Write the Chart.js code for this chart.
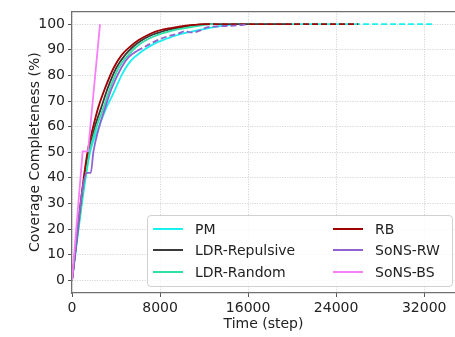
<!DOCTYPE html>
<html>
<head>
<meta charset="utf-8">
<script src="https://cdn.jsdelivr.net/npm/chart.js@4.4.3/dist/chart.umd.min.js"></script>
<style>
  body { margin: 0; background: #fff; font-family: "DejaVu Sans", sans-serif; }
  #wrap { position: relative; width: 455px; height: 337px; }
  #legend {
    position: absolute; left: 147px; top: 215px; width: 304px; height: 70px;
    border: 1px solid #d0d0d0; border-radius: 4px; background: rgba(255,255,255,0.8);
    font-size: 14px; color: #222;
  }
  .item { position: absolute; height: 16px; line-height: 16px; white-space: nowrap; }
  .item i { position: absolute; left: 0; top: 7px; width: 30px; height: 2px; }
  .item span { position: absolute; left: 42px; top: 0; }
</style>
</head>
<body>
<div id="wrap">
  <canvas id="c" width="455" height="337"></canvas>
  <div id="legend"></div>
</div>
<script>
// ---- data (time in steps, coverage in %) ----
const xTicks = [0, 8000, 16000, 24000, 32000];
const yTicks = [0, 10, 20, 30, 40, 50, 60, 70, 80, 90, 100];

const pmSteps = [0, 1130, 1660, 2400, 3150, 3790, 4545, 5300, 6360, 7575, 9090, 10300, 11520, 12800, 14060, 15000, 32700];
const pmCov   = [0, 36.8, 50.3, 59.5, 67.6, 73.3, 80.4, 85.5, 89.4, 92.6, 95.1, 96.6, 97.7, 98.8, 99.6, 100, 100];

const repSteps = [0, 1030, 1540, 2050, 2670, 3270, 4030, 4850, 5500, 6300, 7100, 7880, 8800, 9700, 10600, 11520, 12500, 20000];
const repCov   = [0, 36.8, 50.3, 59.5, 67.6, 75.3, 83, 88.1, 91, 93.6, 95.5, 96.7, 97.9, 98.6, 99.3, 99.8, 100, 100];

const randSteps = [0, 1080, 1600, 2200, 2880, 3485, 4240, 5150, 5800, 6515, 7300, 8180, 9100, 10000, 11520, 12800, 26000];
const randCov   = [0, 36.8, 50.3, 59.5, 67.6, 75.3, 83, 88.1, 91, 93.2, 95, 96.4, 97.5, 98.3, 99.4, 100, 100];

const rbSteps = [0, 970, 1420, 1900, 2424, 3030, 3790, 4545, 5300, 6060, 6800, 7575, 8300, 9090, 10000, 11000, 12000, 26000];
const rbCov   = [0, 36.8, 50.3, 59.5, 68, 75.3, 83, 88.1, 91.3, 93.8, 95.6, 97.1, 98, 98.6, 99.2, 99.7, 100, 100];

const rwSteps = [0, 1350, 1700, 1950, 2450, 3030, 3575, 4480, 5150, 5900, 6665, 7400, 8180, 9000, 9700, 10300, 10750, 11300, 11660, 12250, 13000, 14000, 15200, 16000];
const rwCov   = [0, 41.9, 41.9, 50.3, 59.5, 67.6, 74.6, 83, 87.1, 89.5, 91.3, 93, 94.5, 95.6, 96.4, 97.3, 96.8, 97, 97.6, 98.8, 99.1, 99.3, 99.6, 100];

const bsSteps = [0, 970, 1455, 2545];
const bsCov   = [0, 50.3, 50.3, 100];

const pts = (xs, ys) => xs.map((x, i) => ({ x: x, y: ys[i] }));

const series = [
  { label: 'PM',            data: pts(pmSteps, pmCov),     color: '#19f0f0', dashFrom: 15000 },
  { label: 'LDR-Repulsive', data: pts(repSteps, repCov),   color: '#3a3a3a', dashFrom: 12500 },
  { label: 'LDR-Random',    data: pts(randSteps, randCov), color: '#2fe0a8', dashFrom: 12800 },
  { label: 'RB',            data: pts(rbSteps, rbCov),     color: '#a00000', dashFrom: 12000 },
  { label: 'SoNS-RW',       data: pts(rwSteps, rwCov),     color: '#8f62d0', dashFrom: 5500 },
  { label: 'SoNS-BS',       data: pts(bsSteps, bsCov),     color: '#f77ff7', dashFrom: Infinity, linear: true }
];

const font = { family: '"DejaVu Sans", sans-serif', size: 14 };
// v4: border.dash dashes the grid lines, the axis line itself stays solid
const spine = { display: true, color: '#707070', width: 1.2, dash: [1, 1.5] };
const grid = {
  color: '#cfcfcf', lineWidth: 1,
  tickColor: '#555', tickBorderDash: [], tickLength: 4, tickWidth: 1
};

new Chart(document.getElementById('c'), {
  type: 'line',
  data: {
    datasets: series.map((s, i) => ({
      label: s.label,
      data: s.data,
      borderColor: s.color,
      backgroundColor: s.color,
      borderWidth: 1.8,
      pointRadius: 0,
      fill: false,
      order: series.length - i,
      cubicInterpolationMode: s.linear ? 'default' : 'monotone',
      tension: 0,
      segment: {
        borderDash: ctx => ctx.p0.parsed.x >= s.dashFrom ? [6, 3] : undefined
      }
    }))
  },
  options: {
    responsive: false,
    animation: false,
    layout: { padding: { left: 0, right: 0, top: 7, bottom: 0 } },
    plugins: { legend: { display: false }, tooltip: { enabled: false } },
    scales: {
      x: {
        type: 'linear', min: 0, max: 34800,
        afterBuildTicks: s => { s.ticks = xTicks.map(v => ({ value: v })); },
        afterFit: s => { s.height = 44; },
        ticks: { font: font, color: '#222', padding: 3, maxRotation: 0, callback: v => String(v) },
        grid: grid,
        border: spine,
        title: { display: true, text: 'Time (step)', font: font, color: '#222', padding: { top: 0, bottom: 4.6 } }
      },
      xTop: {
        type: 'linear', position: 'top', min: 0, max: 1,
        afterFit: s => { s.height = 0; },
        ticks: { display: false },
        grid: { display: false },
        border: spine
      },
      y: {
        type: 'linear', min: -5, max: 105,
        afterBuildTicks: s => { s.ticks = yTicks.map(v => ({ value: v })); },
        afterFit: s => { s.width = 72; },
        ticks: { font: font, color: '#222', padding: 3, callback: v => String(v) },
        grid: grid,
        border: spine,
        title: { display: true, text: 'Coverage Completeness (%)', font: font, color: '#222', padding: { top: 26.6, bottom: 0 } }
      }
    }
  }
});

// legend laid out like the reference (two columns, lower right)
const legend = document.getElementById('legend');
series.forEach((s, i) => {
  const col = Math.floor(i / 3), row = i % 3;
  const el = document.createElement('div');
  el.className = 'item';
  el.style.left = (5 + col * 180) + 'px';
  el.style.top = (4.5 + row * 21.5) + 'px';
  el.innerHTML = '<i style="background:' + s.color + '"></i><span>' + s.label + '</span>';
  legend.appendChild(el);
});
</script>
</body>
</html>
